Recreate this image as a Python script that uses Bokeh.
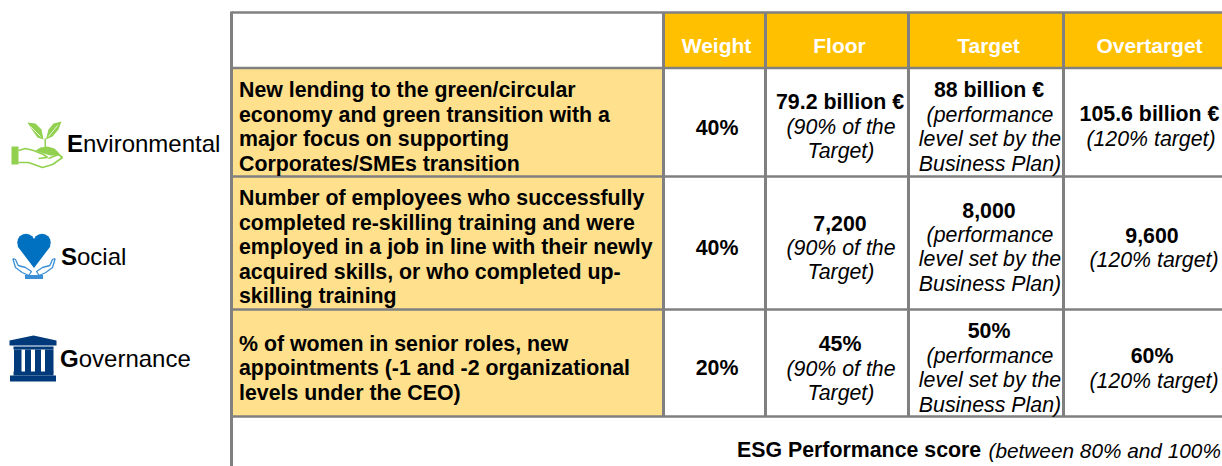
from bokeh.embed import file_html
from bokeh.resources import INLINE
from bokeh.plotting import figure
from bokeh.models import Range1d, ColumnDataSource
from bokeh.core.properties import value

# ---- table content ----
headers = ["Weight", "Floor", "Target", "Overtarget"]
kpi_lines = [
    ["New lending to the green/circular", "economy and green transition with a", "major focus on supporting", "Corporates/SMEs transition"],
    ["Number of employees who successfully", "completed re-skilling training and were", "employed in a job in line with their newly", "acquired skills, or who completed up-", "skilling training"],
    ["% of women in senior roles, new", "appointments (-1 and -2 organizational", "levels under the CEO)"],
]
weights = ["40%", "40%", "20%"]
floors = ["79.2 billion €", "7,200", "45%"]
targets = ["88 billion €", "8,000", "50%"]
overtargets = ["105.6 billion €", "9,600", "60%"]
floor_note = ["(90% of the", "Target)"]
target_note = ["(performance", "level set by the", "Business Plan)"]
over_note = ["(120% target)"]
pillars = ["Environmental", "Social", "Governance"]
score_label = "ESG Performance score"
score_note = "(between 80% and 100%"

# ---- layout ----
W, H = 1222, 466
FONT = value("Liberation Sans")
GRAY, GOLD, SAND = "#808080", "#FFC000", "#FFE08C"
col_x = [231, 663, 765, 908, 1063, 1222]
row_y = [12, 67.5, 176, 309, 416]
PITCH = 24.55
SIZE = "21.33px"

p = figure(width=W, height=H, x_range=Range1d(0, W), y_range=Range1d(H, 0),
           x_axis_type=None, y_axis_type=None, toolbar_location=None,
           output_backend="svg", min_border=0, outline_line_color=None)
p.grid.visible = False

# fills
p.quad(left=[col_x[1]], right=[col_x[5]], top=[row_y[0]], bottom=[row_y[1]], fill_color=GOLD, line_color=None)
p.quad(left=[col_x[0]] * 3, right=[col_x[1]] * 3, top=row_y[1:4], bottom=row_y[2:5], fill_color=SAND, line_color=None)

# grid lines
p.segment(x0=[col_x[0]] * 5, x1=[col_x[5]] * 5, y0=row_y, y1=row_y, line_color=GRAY, line_width=2.5)
p.segment(x0=col_x[0:1], x1=col_x[0:1], y0=[row_y[0] - 1], y1=[H], line_color=GRAY, line_width=3)
p.segment(x0=col_x[1:5], x1=col_x[1:5], y0=[row_y[0]] * 4, y1=[row_y[4]] * 4, line_color=GRAY, line_width=3)


def put(xs, ys, texts, style="normal", align="center", size=SIZE, color="#000000"):
    src = ColumnDataSource(dict(x=xs, y=ys, t=texts))
    p.text(x="x", y="y", text="t", source=src, text_font=FONT, text_font_size=value(size),
           text_font_style=value(style), text_align=align, text_baseline="middle", text_color=color)


# header
centers = [716, 839, 988, 1149]
put(centers, [44.5] * 4, headers, "bold", color="#FFFFFF", size="21px")

# KPI descriptions
kpi_top = [89.5, 197.5, 343]
for top, lines in zip(kpi_top, kpi_lines):
    put([238.5] * len(lines), [top + i * PITCH for i in range(len(lines))], lines, "bold", "left")

# weight
put([716.5] * 3, [127, 247, 367], weights, "bold")


def column(cxs, note_cxs, tops, heads, note):
    for cx, ncx, top, head in zip(cxs, note_cxs, tops, heads):
        put([cx], [top], [head], "bold")
        put([ncx] * len(note), [top + (i + 1) * PITCH for i in range(len(note))], note, "italic")


column([839.5] * 3, [840.5] * 3, [101.5, 222.5, 343.5], floors, floor_note)
column([988.5] * 3, [989.5] * 3, [89.5, 209.5, 330.5], targets, target_note)
column([1149, 1151.5, 1151.5], [1150.5, 1153.5, 1153.5], [113.5, 234.5, 355.5], overtargets, over_note)

# footer
put([736.5], [449.5], [score_label], "bold", "left")
put([988], [449.5], [score_note], "italic", "left", "20.8px")

# side labels
label_x = [66.5, 60.5, 59.5]
label_y = [142.5, 255.5, 357.5]
first_w = [16, 16, 18.7]
for x, y, w, name in zip(label_x, label_y, first_w, pillars):
    put([x], [y], [name[0]], "bold", "left", "24px")
    put([x + w], [y], [name[1:]], "normal", "left", "24px")

# ---- icons (decoration, drawn in page pixels) ----
GREEN, BLUE, LBLUE, NAVY = "#92D050", "#0070C0", "#3B8FD6", "#003A7A"
p.patches(xs=[[11, 18, 18, 11],
              [27, 35, 41, 43, 37, 32],
              [61, 53, 48, 45.5, 52, 58],
              [44, 45.5, 45.5, 44],
              [35, 40, 47, 54, 58, 60, 50, 40]],
          ys=[[146, 146, 164, 164],
              [122, 123, 129, 139, 137, 130],
              [121, 123, 129, 139, 136, 129],
              [138, 138, 147, 147],
              [150, 147, 146, 148, 152, 155, 155, 152]],
          fill_color=GREEN, line_color=None)
p.multi_line(xs=[[18, 25, 33, 43, 47, 38], [18, 28, 42, 52, 62, 58, 48]],
             ys=[[150, 148, 150, 154, 157, 158], [162, 162, 167, 164, 157, 154, 158]],
             line_color=GREEN, line_width=1.6)
p.multi_line(xs=[[30, 40], [57, 48]], ys=[[126, 136], [125, 136]], line_color="#FFFFFF", line_width=0.8)

p.scatter(x=[25.5, 41.5], y=[242, 242], size=17.5, marker="circle", fill_color=BLUE, line_color=None)
p.patches(xs=[[17.2, 33.5, 49.8, 41.5, 33.5, 25.5]], ys=[[246, 267.5, 246, 238, 240, 238]], fill_color=BLUE, line_color=None)
hand_x = [12.3, 15, 21.7, 28.3, 31, 25, 17.7, 15, 12.3]
hand_y = [258, 267, 272, 275, 271, 267, 265, 259, 258]
p.multi_line(xs=[hand_x, [67 - v for v in hand_x]], ys=[hand_y, hand_y], line_color=LBLUE, line_width=1.3)
p.quad(left=[24.5], right=[42.5], top=[274.5], bottom=[278.5], fill_color=LBLUE, line_color=None)

p.patches(xs=[[9, 33, 56, 56, 9], [13, 53, 53, 13]], ys=[[340, 335, 340, 345, 345], [346, 346, 349, 349]], fill_color=NAVY, line_color=None)
p.quad(left=[13.5, 24.5, 34.5, 44.5], right=[21, 30.5, 40.5, 53], top=[349] * 4, bottom=[372] * 4, fill_color=NAVY, line_color=None)
p.quad(left=[13, 9.5], right=[53, 55.5], top=[371, 375], bottom=[375, 381], fill_color=NAVY, line_color=None)

open("out.html", "w").write(file_html(p, INLINE))
